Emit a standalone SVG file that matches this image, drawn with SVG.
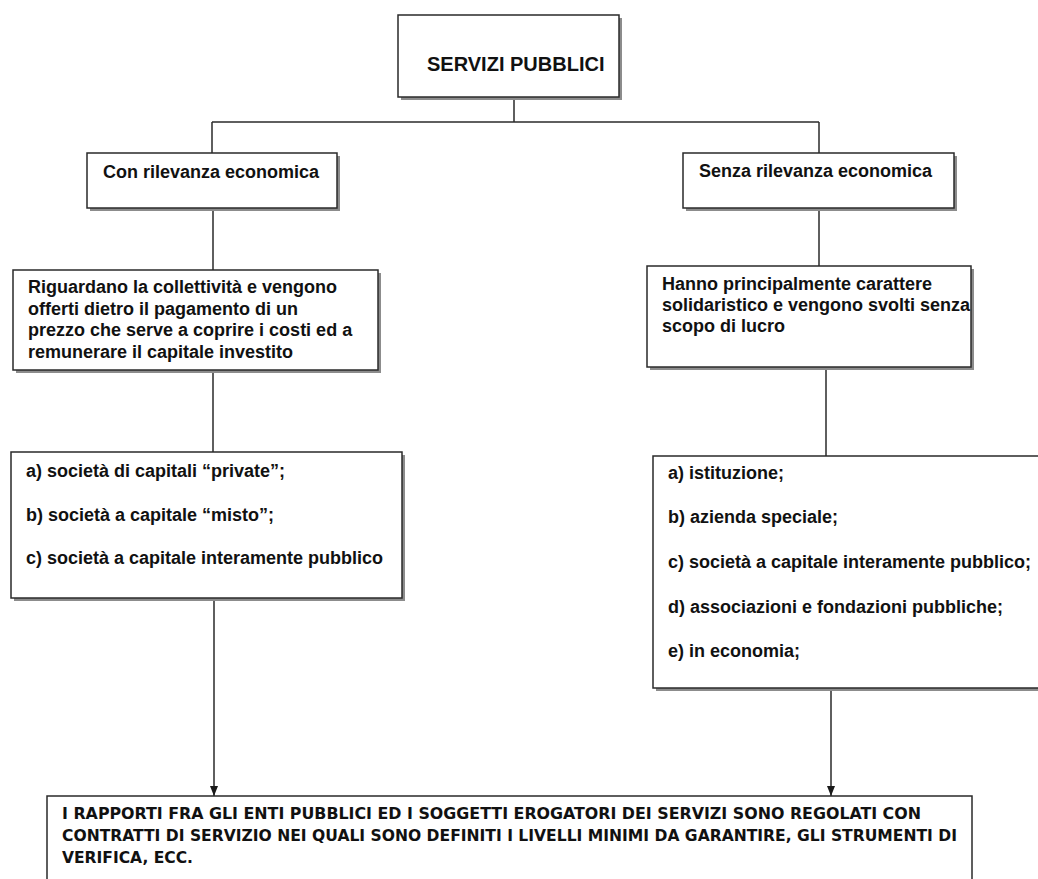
<svg xmlns="http://www.w3.org/2000/svg" width="1038" height="879" viewBox="0 0 1038 879">
  <defs>
    <marker id="arrow" viewBox="0 0 10 8" refX="10" refY="4" markerWidth="10" markerHeight="8" markerUnits="userSpaceOnUse" orient="auto">
      <path d="M0,0 L10,4 L0,8 Z" fill="#1a1a1a"/>
    </marker>
    <style>
      .box { fill: #ffffff; stroke: #2a2a2a; stroke-width: 1.5; }
      .shadow { fill: #8c8c8c; }
      .wire { fill: none; stroke: #2a2a2a; stroke-width: 1.5; }
      .lbl { font-family: "Liberation Sans", Arial, sans-serif; font-weight: bold; font-size: 18px; fill: #111111; }
      .title { font-family: "Liberation Sans", Arial, sans-serif; font-weight: bold; font-size: 20px; fill: #111111; }
      .note { font-family: "Liberation Sans Narrow", "DejaVu Sans Condensed", "DejaVu Sans", sans-serif; font-stretch: condensed; font-weight: bold; font-size: 15px; fill: #111111; }
    </style>
  </defs>

  <rect width="1038" height="879" fill="#ffffff"/>

  <!-- connectors -->
  <g id="connectors">
    <line class="wire" x1="514" y1="97" x2="514" y2="122"/>
    <line class="wire" x1="212" y1="122" x2="819" y2="122"/>
    <line class="wire" x1="212" y1="122" x2="212" y2="153"/>
    <line class="wire" x1="819" y1="122" x2="819" y2="153"/>
    <line class="wire" x1="213" y1="208" x2="213" y2="270"/>
    <line class="wire" x1="819" y1="208" x2="819" y2="266"/>
    <line class="wire" x1="213" y1="370" x2="213" y2="452"/>
    <line class="wire" x1="826" y1="367" x2="826" y2="456"/>
    <line class="wire" x1="214" y1="598" x2="214" y2="796" marker-end="url(#arrow)"/>
    <line class="wire" x1="831" y1="688" x2="831" y2="796" marker-end="url(#arrow)"/>
  </g>

  <!-- root -->
  <g id="servizi-pubblici">
    <rect class="shadow" x="401" y="18" width="221" height="82"/>
    <rect class="box" x="398" y="15" width="221" height="82"/>
    <text class="title" x="427" y="71">SERVIZI PUBBLICI</text>
  </g>

  <!-- left branch -->
  <g id="con-rilevanza">
    <rect class="shadow" x="90" y="156" width="250" height="55"/>
    <rect class="box" x="87" y="153" width="250" height="55"/>
    <text class="lbl" x="103" y="178">Con rilevanza economica</text>
  </g>

  <g id="con-descrizione">
    <rect class="shadow" x="16" y="273" width="365" height="100"/>
    <rect class="box" x="13" y="270" width="365" height="100"/>
    <text class="lbl" x="28" y="293">Riguardano la collettività e vengono</text>
    <text class="lbl" x="28" y="315">offerti dietro il pagamento di un</text>
    <text class="lbl" x="28" y="336">prezzo che serve a coprire i costi ed a</text>
    <text class="lbl" x="28" y="358">remunerare il capitale investito</text>
  </g>

  <g id="con-forme">
    <rect class="shadow" x="14" y="455" width="391" height="146"/>
    <rect class="box" x="11" y="452" width="391" height="146"/>
    <text class="lbl" x="26" y="477">a) società di capitali “private”;</text>
    <text class="lbl" x="26" y="521">b) società a capitale “misto”;</text>
    <text class="lbl" x="26" y="564">c) società a capitale interamente pubblico</text>
  </g>

  <!-- right branch -->
  <g id="senza-rilevanza">
    <rect class="shadow" x="686" y="156" width="271" height="55"/>
    <rect class="box" x="683" y="153" width="271" height="55"/>
    <text class="lbl" x="699" y="177">Senza rilevanza economica</text>
  </g>

  <g id="senza-descrizione">
    <rect class="shadow" x="650" y="269" width="324" height="101"/>
    <rect class="box" x="647" y="266" width="324" height="101"/>
    <text class="lbl" x="662" y="290">Hanno principalmente carattere</text>
    <text class="lbl" x="662" y="311">solidaristico e vengono svolti senza</text>
    <text class="lbl" x="662" y="332">scopo di lucro</text>
  </g>

  <g id="senza-forme">
    <rect class="shadow" x="656" y="459" width="400" height="232"/>
    <rect class="box" x="653" y="456" width="400" height="232"/>
    <text class="lbl" x="668" y="479">a) istituzione;</text>
    <text class="lbl" x="668" y="523">b) azienda speciale;</text>
    <text class="lbl" x="668" y="568">c) società a capitale interamente pubblico;</text>
    <text class="lbl" x="668" y="613">d) associazioni e fondazioni pubbliche;</text>
    <text class="lbl" x="668" y="657">e) in economia;</text>
  </g>

  <!-- closing note -->
  <g id="contratti-servizio">
    <rect class="box" x="47" y="796" width="925" height="100"/>
    <text class="note" x="62" y="819" textLength="859" lengthAdjust="spacingAndGlyphs">I RAPPORTI FRA GLI ENTI PUBBLICI ED I SOGGETTI EROGATORI DEI SERVIZI SONO REGOLATI CON</text>
    <text class="note" x="62" y="841" textLength="895" lengthAdjust="spacingAndGlyphs">CONTRATTI DI SERVIZIO NEI QUALI SONO DEFINITI I LIVELLI MINIMI DA GARANTIRE, GLI STRUMENTI DI</text>
    <text class="note" x="62" y="863" textLength="131" lengthAdjust="spacingAndGlyphs">VERIFICA, ECC.</text>
  </g>
</svg>
